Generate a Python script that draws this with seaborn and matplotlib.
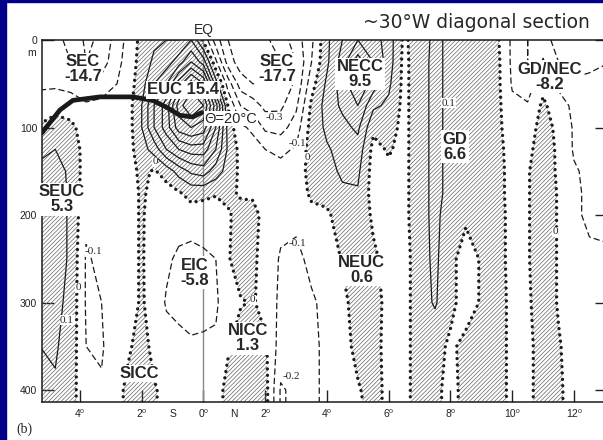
import numpy as np
import matplotlib
matplotlib.use("Agg")
import matplotlib.pyplot as plt
from matplotlib.patches import Rectangle
import seaborn as sns

# ---------------------------------------------------------------------------
# Zonal velocity section along the ~30°W diagonal (cm/s, eastward positive)
# ---------------------------------------------------------------------------
lat = [-5.3, -4.8, -4.3, -3.8, -3.3, -2.8, -2.4, -2.0, -1.6, -1.2, -0.8, -0.4,
       0.0, 0.4, 0.8, 1.2, 1.6, 2.0, 2.5, 3.0, 3.5, 4.0, 4.5, 5.0, 5.5, 6.0,
       6.5, 7.0, 7.5, 8.0, 8.5, 9.0, 9.5, 10.0, 10.5, 11.0, 11.5, 12.0, 12.5, 13.2]
depth = [0, 25, 50, 75, 100, 125, 150, 175, 200, 250, 300, 350, 400, 415]

# one velocity profile (cm/s) per latitude, top to bottom
u_profiles_cms = [
    [-15, -15, -12, -5, 1, 8, 12, 15, 15, 15, 12, 10, 8, 8],        # -5.3
    [-18, -17, -12, -3, 4, 10, 14, 16, 16, 16, 13, 11, 9, 8],       # -4.8
    [-22, -20, -14, -4, 2, 6, 8, 8, 8, 8, 7, 6, 5, 5],              # -4.3
    [-32, -30, -20, -8, -4, -4, -5, -6, -8, -11, -11, -10, -9, -9],  # -3.8
    [-28, -25, -16, -7, -4, -4, -4, -5, -6, -8, -10, -11, -9, -8],   # -3.3
    [-15, -13, -10, -6, -4, -3, -4, -5, -5, -6, -5, -4, -3, -3],     # -2.8
    [-6, -5, -4, -3, -3, -3, -3, -3, -3, -3, -3, -1, 3, 3],          # -2.4
    [3, 4, 6, 10, 10, 6, 2, 1, 1, 1, 1, 4, 5, 5],                   # -2.0
    [8, 12, 20, 30, 30, 14, -1, -2, -4, -5, -4, -3, 1, 1],          # -1.6
    [10, 15, 30, 45, 45, 30, 4, -4, -5, -8, -11, -6, -3, -3],       # -1.2
    [10, 25, 55, 75, 65, 40, 14, -1, -5, -12, -13, -7, -3, -3],     # -0.8
    [20, 40, 75, 90, 70, 45, 22, 3, -4, -14, -16, -8, -4, -4],      # -0.4
    [-2, 25, 60, 80, 65, 45, 25, 2, -4, -12, -14, -8, -4, -4],      #  0.0
    [-25, -8, 15, 45, 40, 30, 15, 1, -6, -10, -12, -8, -4, -4],     #  0.4
    [-40, -35, -15, -1, 6, 8, 6, 2, -1, -1, -2, -1, 3, 3],          #  0.8
    [-45, -45, -35, -20, -8, -3, -2, -1, 3, 6, -1, 6, 8, 8],        #  1.2
    [-45, -45, -40, -25, -12, -6, -4, -2, 4, 2, 1, 8, 10, 10],      #  1.6
    [-42, -45, -40, -33, -22, -10, -6, -5, -4, -4, -4, 2, 4, 4],    #  2.0
    [-35, -40, -38, -32, -24, -12, -7, -6, -7, -11, -12, -15, -21, -21],  # 2.5
    [-25, -30, -28, -22, -15, -9, -6, -6, -8, -12, -14, -16, -18, -18],   # 3.0
    [-12, -10, -4, 2, 4, 5, 4, 2, -3, -8, -11, -12, -12, -12],      #  3.5
    [8, 8, 12, 14, 12, 9, 8, 4, -2, -8, -8, -8, -8, -8],            #  4.0
    [20, 25, 25, 22, 17, 13, 11, 9, 6, 1, -3, -4, -6, -6],          #  4.5
    [30, 45, 40, 30, 22, 16, 12, 9, 8, 6, 5, 3, -1, -2],            #  5.0
    [25, 30, 25, 12, 2, -3, -4, -4, -2, 2, 5, 4, 4, 4],             #  5.5
    [15, 15, 12, 8, 4, 1, -2, -3, -4, -4, -4, -4, -3, -3],          #  6.0
    [-2, -3, -3, -3, -3, -3, -3, -3, -3, -4, -4, -4, -4, -4],       #  6.5
    [6, 7, 7, 7, 7, 7, 7, 7, 7, 6, 6, 6, 6, 6],                     #  7.0
    [12, 12, 12, 12, 12, 12, 12, 12, 12, 12, 11, 4, 3, 3],          #  7.5
    [8, 8, 8, 8, 8, 8, 8, 8, 6, 3, 3, -2, -4, -4],                  #  8.0
    [8, 8, 6, 6, 6, 6, 6, 5, 2, -5, -5, 3, 4, 4],                   #  8.5
    [6, 6, 5, 5, 5, 5, 5, 5, 4, 1, 1, 4, 5, 5],                     #  9.0
    [2, 3, 3, 3, 3, 4, 4, 4, 5, 5, 5, 5, 5, 5],                     #  9.5
    [-12, -12, -11, -8, -6, -5, -4, -4, -4, -4, -3, -3, -3, -3],    # 10.0
    [-20, -20, -15, -9, -6, -3, -1, -1, -1, -1, -2, -4, -4, -4],    # 10.5
    [-15, -9, -3, 2, 5, 6, 7, 7, 7, 7, 7, 7, 7, 7],                 # 11.0
    [-25, -20, -12, -6, -3, -2, -2, -1, -1, -1, -1, 1, 2, 2],       # 11.5
    [-30, -25, -18, -12, -11, -11, -9, -9, -9, -7, -6, -5, -5, -5], # 12.0
    [-25, -22, -18, -15, -13, -12, -12, -11, -11, -9, -5, -3, -2, -2],    # 12.5
    [-20, -20, -16, -14, -12, -11, -11, -11, -12, -9, -4, -3, -2, -2],    # 13.2
]

# 20 °C isotherm
iso_lat = [-5.23, -4.65, -4.23, -3.35, -2.29, -1.65, -1.19, -0.77, -0.35, -0.06]
iso_depth = [106, 80, 69, 65, 65, 69, 77, 86, 88, 83]

# named currents and their transports (Sv)
current_names = ["SEC", "EUC", "SEC", "NECC", "GD/NEC", "GD", "SEUC", "EIC",
                 "SICC", "NICC", "NEUC"]
current_transport = [-14.7, 15.4, -17.7, 9.5, -8.2, 6.6, 5.3, -5.8,
                     None, 1.3, 0.6]
current_lat = [-3.9, -0.66, 2.38, 5.07, 11.2, 8.15, -4.58, -0.28, -2.09, 1.44, 5.13]
current_depth = [33, 57, 33, 39, 42, 122, 182, 266, 381, 341, 263]

# isotach labels
isotach_text = ["-0.3", "-0.1", "-0.1", "-0.1", "0", "0.1", "0", "0",
                "-0.2", "0", "0.1", "0"]
isotach_lat = [2.28, 3.03, 3.03, -3.55, -4.06, -4.42, -1.57, 1.6,
               2.84, 3.35, 7.95, 11.39]
isotach_depth = [89, 118, 233, 242, 283, 320, 139, 297, 385, 134, 72, 219]

lat_ticks = [-4, -2, 0, 2, 4, 6, 8, 10, 12]
lat_ticklabels = ["4⁰", "2⁰", "0⁰", "2⁰", "4⁰", "6⁰", "8⁰", "10⁰", "12⁰"]
depth_ticks = [0, 100, 200, 300, 400]

# ---------------------------------------------------------------------------
sns.set_theme(style="white")
plt.rcParams["font.family"] = ["Liberation Sans", "DejaVu Sans"]
plt.rcParams["hatch.color"] = "#666666"
plt.rcParams["hatch.linewidth"] = 0.5

u = np.array(u_profiles_cms, dtype=float).T / 100.0

fig = plt.figure(figsize=(6.03, 4.40), dpi=100)
fig.patch.set_facecolor("white")
ax = fig.add_axes([42 / 603, 38 / 440, 565 / 603, 362 / 440])
ax.set_facecolor("white")

# eastward flow hatched
cf = ax.contourf(lat, depth, u, levels=[0, 5], colors="none",
                 hatches=["////////"])
if hasattr(cf, "set_hatchcolor"):
    cf.set_hatchcolor("#666666")
cf.set_edgecolor("#666666")
cf.set_linewidth(0)

neg = ax.contour(lat, depth, u, levels=[-0.4, -0.3, -0.2, -0.1], colors="k",
                 linewidths=0.9, linestyles=[(0, (5, 2.5))])
pos = ax.contour(lat, depth, u, levels=[0.1, 0.2, 0.3, 0.4, 0.5, 0.6, 0.7, 0.8],
                 colors="k", linewidths=0.9, linestyles="solid")
zero = ax.contour(lat, depth, u, levels=[0.0], colors="k", linewidths=2.4,
                  linestyles=[(0, (0.01, 1.9))])
zero.set_capstyle("round")

ax.axvline(0, color="#8a8a8a", lw=1.0, zorder=1.5)

sns.lineplot(x=iso_lat, y=iso_depth, ax=ax, color="k", linewidth=3.4,
             sort=False, estimator=None)

for name, tr, x, y in zip(current_names, current_transport, current_lat, current_depth):
    if tr is None:
        s = name
    elif name == "EUC":
        s = f"{name} {tr:.1f}"
    else:
        s = f"{name}\n{tr:.1f}"
    ax.text(x, y, s, ha="center", va="center", fontsize=12, fontweight="bold",
            linespacing=1.0, zorder=5,
            bbox=dict(boxstyle="square,pad=0.08", fc="white", ec="none"))

ax.text(0.89, 90, "Θ=20°C", ha="center", va="center", fontsize=10.5, zorder=5,
        bbox=dict(boxstyle="square,pad=0.05", fc="white", ec="none"))

for s, x, y in zip(isotach_text, isotach_lat, isotach_depth):
    ax.text(x, y, s, ha="center", va="center", fontsize=8,
            family=["Liberation Serif", "DejaVu Serif"], zorder=5,
            bbox=dict(boxstyle="square,pad=0.05", fc="white", ec="none"))

ax.set_xlim(-5.23, 13.07)
ax.set_ylim(413.7, 0)
ax.set_xlabel("")
ax.set_ylabel("")

ax.set_xticks(lat_ticks)
ax.set_xticklabels(lat_ticklabels)
ax.set_xticks([-1, 1], minor=True)
ax.set_xticklabels(["S", "N"], minor=True)
ax.set_yticks(depth_ticks)
ax.set_yticklabels([str(d) for d in depth_ticks])

ax.tick_params(axis="x", which="major", direction="in", length=8.5, width=1.0,
               bottom=True, top=False, labelsize=7.5, pad=5, colors="#222222")
ax.tick_params(axis="x", which="minor", length=0, bottom=True, labelsize=7.5,
               pad=5, colors="#222222")
ax.tick_params(axis="y", direction="in", length=8.5, width=1.0, left=True,
               right=True, labelsize=7.5, pad=3.5, colors="#222222")

for side in ["left", "bottom", "top", "right"]:
    ax.spines[side].set_visible(True)
    ax.spines[side].set_color("k")
    ax.spines[side].set_linewidth(1.1)

ax.text(-10 / 565, 15, "m", transform=ax.get_yaxis_transform(), ha="center",
        va="center", fontsize=7.5, color="#222222")
ax.text(0, -11.5, "EQ", ha="center", va="center", fontsize=10, clip_on=False)

fig.text(363 / 603, 1 - 22 / 440, "~30°W diagonal section", fontsize=13.5,
         family="DejaVu Sans", ha="left", va="center")
fig.text(24 / 603, 1 - 429 / 440, "(b)", fontsize=10,
         family=["Liberation Serif", "DejaVu Serif"], ha="center", va="center")

# slide frame
fig.add_artist(Rectangle((0, 0), 6 / 603, 1, transform=fig.transFigure,
                         color="#000088", zorder=10))
fig.add_artist(Rectangle((0, 1 - 2 / 440), 1, 2 / 440, transform=fig.transFigure,
                         color="#000088", zorder=10))

fig.savefig("out.png", dpi=100)
